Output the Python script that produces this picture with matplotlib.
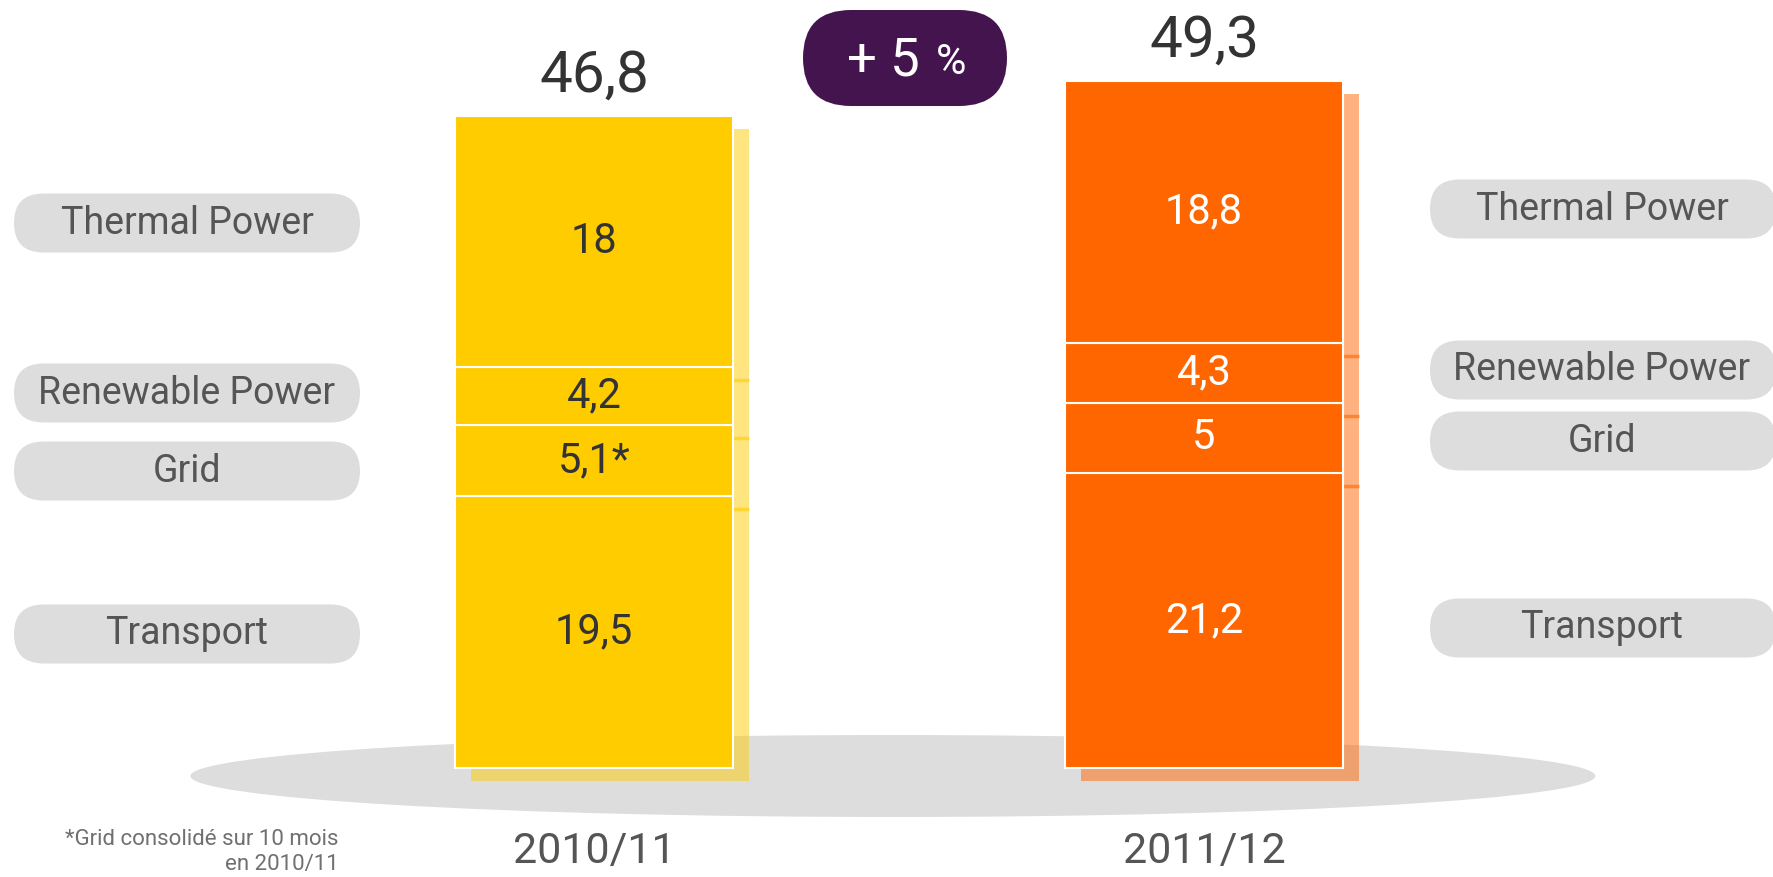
import matplotlib.pyplot as plt
from matplotlib.patches import Ellipse, FancyBboxPatch

# data
years = ["2010/11", "2011/12"]
segments = ["Transport", "Grid", "Renewable Power", "Thermal Power"]
values_2010 = [19.5, 5.1, 4.2, 18.0]
values_2011 = [21.2, 5.0, 4.3, 18.8]
marks_2010 = ["", "*", "", ""]
marks_2011 = ["", "", "", ""]
growth_pct = 5
footnote = "*Grid consolidé sur 10 mois\nen 2010/11"

bar_colors = ["#FFCC00", "#FF6600"]
label_colors = ["#333333", "#FFFFFF"]
pill_y = [[634, 471, 393, 223], [628, 441, 370, 209]]  # pixel rows of the side labels

plt.rcParams['font.family'] = ['Roboto', 'DejaVu Sans']

W, H = 1774, 877
fig = plt.figure(figsize=(W / 100, H / 100), dpi=100)

# pixel overlay for decorations
bg = fig.add_axes([0, 0, 1, 1])
bg.set_xlim(0, W)
bg.set_ylim(H, 0)
bg.axis('off')

# data axes: bar 0 at x=0, bar 1 at x=1, y in values
ax = fig.add_axes([0, 0, 1, 1])
px_x = 610.0   # pixels per x unit
px_y = 13.93   # pixels per value unit
x0_px, base_px = 594, 768
ax.set_xlim(-x0_px / px_x, (W - x0_px) / px_x)
ax.set_ylim(-(H - base_px) / px_y, base_px / px_y)
ax.axis('off')

width = 278 / px_x
dx, dy = 16 / px_x, 13 / px_y

# floor ellipse
ax.add_patch(Ellipse((0.49, -8 / px_y), 1405 / px_x, 82 / px_y,
                     color="#DDDDDD", lw=0, zorder=1))

fmt = lambda v: f"{v:g}".replace('.', ',')

for i, (vals, marks) in enumerate([(values_2010, marks_2010), (values_2011, marks_2011)]):
    col = bar_colors[i]
    total = sum(vals)
    # shadow
    ax.bar(i + dx, total, width, bottom=-dy, color=col, alpha=0.5, lw=0, zorder=2)
    bottom = 0
    for v, m in zip(vals, marks):
        ax.bar(i, v, width, bottom=bottom, color=col, edgecolor="white", lw=1.5, zorder=3)
        ax.text(i, bottom + v / 2, fmt(v) + m, ha="center", va="center",
                fontsize=30, color=label_colors[i], zorder=4)
        bottom += v
        if bottom < total:
            ax.hlines(bottom - dy, i + dx - width / 2, i + dx + width / 2,
                      color=col, alpha=0.6, lw=2.5, zorder=2)
    ax.text(i, total + 1.75, fmt(round(total, 1)), ha="center", va="baseline",
            fontsize=42, color="#333333", zorder=4)
    ax.text(i, -(851 - base_px) / px_y, years[i], ha="center", va="center",
            fontsize=31, color="#555555")

# side pills
pill_h = 59
for side, (x_left, x_right) in enumerate([(14, 360), (1430, 1776)]):
    for name, yc in zip(segments, pill_y[side]):
        bg.add_patch(FancyBboxPatch((x_left, yc - pill_h / 2), x_right - x_left, pill_h,
                                    boxstyle=f"round,pad=0,rounding_size={pill_h / 2}",
                                    fc="#DDDDDD", ec="none"))
        xc = (x_left + x_right) / 2 if side == 0 else 1602
        bg.text(xc, yc, name, ha="center", va="center", fontsize=27, color="#555555")

# growth pill
bg.add_patch(FancyBboxPatch((803, 10), 204, 96,
                            boxstyle="round,pad=0,rounding_size=48",
                            fc="#44144F", ec="none"))
bg.text(920, 76, f"+ {growth_pct}", ha="right", va="baseline", fontsize=38, color="white")
bg.text(936, 74, "%", ha="left", va="baseline", fontsize=30, color="white")

# footnote
bg.text(339, 852, footnote, ha="right", va="center", fontsize=16, color="#707070",
        linespacing=1.3)

fig.savefig("out.png", dpi=100)
